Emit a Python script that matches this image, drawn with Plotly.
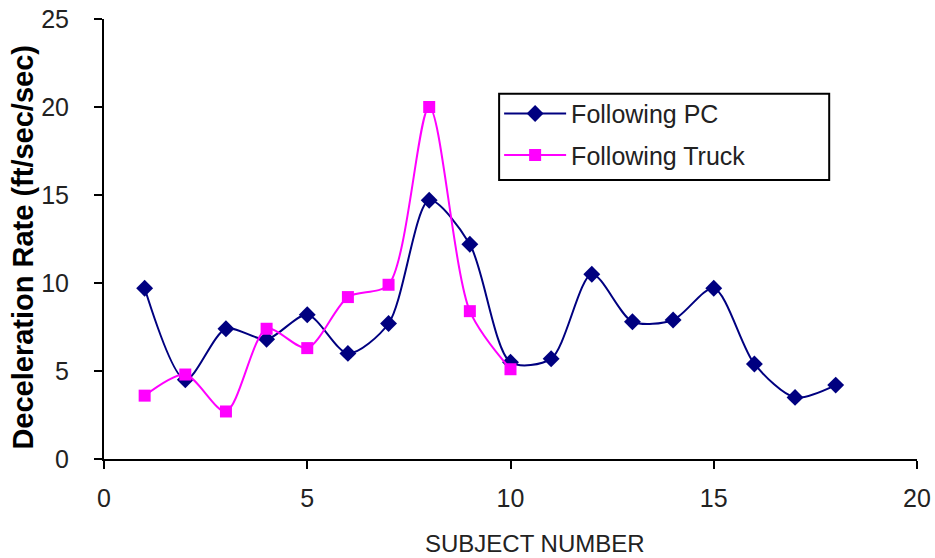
import plotly.graph_objects as go

subjects_pc = list(range(1, 19))
pc_values = [9.7, 4.5, 7.4, 6.8, 8.2, 6.0, 7.7, 14.7, 12.2, 5.5, 5.7, 10.5, 7.8, 7.9, 9.7, 5.4, 3.5, 4.2]
subjects_truck = list(range(1, 11))
truck_values = [3.6, 4.8, 2.7, 7.4, 6.3, 9.2, 9.9, 20.0, 8.4, 5.1]
x_ticks = [0, 5, 10, 15, 20]
y_ticks = [0, 5, 10, 15, 20, 25]

FONT = "Liberation Sans, Arial, sans-serif"
TXT = "#222222"

fig = go.Figure()
fig.add_trace(go.Scatter(
    x=subjects_pc, y=pc_values, name="Following PC",
    mode="lines+markers", legendgroup="pc",
    line=dict(color="#000080", width=2, shape="spline", smoothing=0.8),
    marker=dict(symbol="diamond", size=13, color="#000080"),
))
fig.add_trace(go.Scatter(
    x=subjects_truck, y=truck_values, name="Following Truck",
    mode="lines+markers", legendgroup="truck",
    line=dict(color="#FF00FF", width=2, shape="spline", smoothing=0.8),
    marker=dict(symbol="square", size=12, color="#FF00FF"),
))

# legend frame (wider than plotly's auto-sized legend box)
fig.add_shape(type="rect", xref="paper", yref="paper",
              x0=0.486, x1=0.892, y0=0.634, y1=0.83,
              line=dict(color="black", width=2), fillcolor="white", layer="above")

fig.add_annotation(text="SUBJECT NUMBER", xref="paper", yref="paper",
                   x=0.530, y=-0.193, xanchor="center", yanchor="middle",
                   showarrow=False, font=dict(size=24, family=FONT, color=TXT))
fig.add_annotation(text="<b>Deceleration Rate (ft/sec/sec)</b>", xref="paper", yref="paper",
                   x=-0.1, y=0.482, xanchor="center", yanchor="middle", textangle=-90,
                   showarrow=False, font=dict(size=29, family=FONT, color="black"))

fig.update_layout(
    width=935, height=558,
    margin=dict(l=104, r=18, t=19, b=99),
    paper_bgcolor="white", plot_bgcolor="white",
    font=dict(family=FONT, color="black", size=25),
    showlegend=True,
    legend=dict(
        x=0.486, y=0.837, xanchor="left", yanchor="top",
        borderwidth=0, bgcolor="rgba(0,0,0,0)",
        font=dict(size=25, family=FONT, color=TXT),
        tracegroupgap=6,
        itemwidth=62,
    ),
    xaxis=dict(
        range=[0, 20], tickvals=x_ticks, showgrid=False, zeroline=False,
        showline=True, linecolor="black", linewidth=2,
        ticks="outside", ticklen=8, tickcolor="black", tickwidth=2,
        tickfont=dict(size=25, family=FONT, color=TXT),
        ticklabelstandoff=8, ticklabeloverflow="allow", automargin=False,
    ),
    yaxis=dict(
        range=[0, 25], tickvals=y_ticks, showgrid=False, zeroline=False,
        showline=True, linecolor="black", linewidth=2,
        ticks="outside", ticklen=8, tickcolor="black", tickwidth=2,
        tickfont=dict(size=25, family=FONT, color=TXT),
        ticklabelstandoff=20, ticklabeloverflow="allow", automargin=False,
    ),
)

fig.write_html(
    "out.html",
    config={"displayModeBar": False},
    post_script="document.body.style.margin='0';document.body.style.overflow='hidden';document.documentElement.style.overflow='hidden';",
)
